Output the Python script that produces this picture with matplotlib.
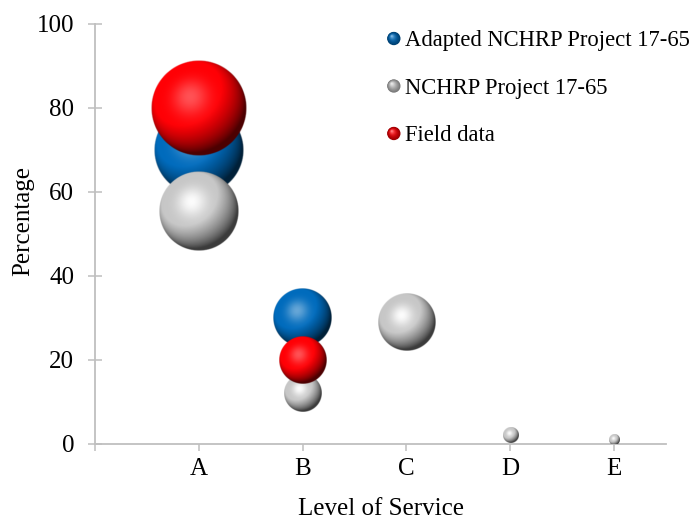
import numpy as np
import matplotlib
matplotlib.use("Agg")
import matplotlib.pyplot as plt
from matplotlib.patches import Circle
from matplotlib.legend_handler import HandlerBase

plt.rcParams['font.family'] = ['Liberation Serif', 'DejaVu Serif']

categories = ['A', 'B', 'C', 'D', 'E']
adapted_x = [1, 2]
adapted_y = [70, 30]
nchrp_x = [1, 2, 3, 4, 5]
nchrp_y = [55.5, 12, 29, 2, 1]
field_x = [1, 2]
field_y = [80, 20]

series = [
    ('Adapted NCHRP Project 17-65', adapted_x, adapted_y, (0.0, 0.42, 0.74), 0.4),
    ('NCHRP Project 17-65', nchrp_x, nchrp_y, (0.78, 0.78, 0.78), 0.95),
    ('Field data', field_x, field_y, (1.0, 0.0, 0.02), 0.32),
]

LIGHT = np.array([-0.35, 0.45, 0.82])
LIGHT = LIGHT / np.linalg.norm(LIGHT)


def sphere_rgba(base, spec_k, n=180):
    base = np.array(base)
    u = np.linspace(-1, 1, n)
    uu, vv = np.meshgrid(u, u)
    d = np.sqrt(uu ** 2 + vv ** 2)
    z = np.sqrt(np.clip(1 - d ** 2, 0, 1))
    diff = uu * LIGHT[0] + vv * LIGHT[1] + z * LIGHT[2]
    h = LIGHT + np.array([0, 0, 1.0])
    h = h / np.linalg.norm(h)
    spec = np.clip(uu * h[0] + vv * h[1] + z * h[2], 0, 1) ** 14
    shade = np.clip(0.4 + 0.9 * diff, 0.3, 1.0)
    c = base[None, None, :] * shade[..., None]
    c = c + spec_k * spec[..., None] * (1 - c)
    alpha = np.clip((1 - d) * n / 2.5, 0, 1)
    return np.dstack([np.clip(c, 0, 1), alpha])


class SphereHandler(HandlerBase):
    def __init__(self, color):
        super().__init__()
        self.color = np.array(color)

    def create_artists(self, legend, orig_handle, xdescent, ydescent,
                       width, height, fontsize, trans):
        cx = width - 5
        cy = height / 2 - ydescent
        R = 4.8
        arts = []
        m = 12
        for i in range(m):
            t = i / (m - 1)
            r = R * (1 - 0.88 * t)
            col = self.color * (0.6 + 0.45 * t)
            col = np.clip(col, 0, 1)
            col = col + 0.5 * t ** 3 * (1 - col)
            arts.append(Circle((cx - 0.3 * R * t, cy + 0.35 * R * t), r,
                               facecolor=col, edgecolor='none', transform=trans))
        return arts


fig = plt.figure(figsize=(6.94, 5.20), dpi=100)
ax = fig.add_axes([95 / 694, 76 / 520, 571 / 694, 420 / 520])
xmin, xmax = 0, 5.5
ymin, ymax = 0, 100

# pixels per data unit
sx = 571 / (xmax - xmin)
sy = 420 / (ymax - ymin)
r_scale = 48 / np.sqrt(80)

handles = []
for k, (name, xs, ys, col, sk) in enumerate(series):
    img = sphere_rgba(col, sk)
    for x, y in zip(xs, ys):
        r = r_scale * np.sqrt(y)
        ax.imshow(img, origin='lower', interpolation='bilinear', aspect='auto',
                  extent=[x - r / sx, x + r / sx, y - r / sy, y + r / sy],
                  zorder=3 + k)
    h, = ax.plot([], [], 'o', color=col, label=name)
    handles.append(h)

ax.set_xlim(xmin, xmax)
ax.set_ylim(ymin, ymax)

gray = '#bfbfbf'
for s in ['top', 'right']:
    ax.spines[s].set_visible(False)
for s in ['left', 'bottom']:
    ax.spines[s].set_color(gray)
    ax.spines[s].set_linewidth(1.3)

ax.set_xticks([0, 1, 2, 3, 4, 5])
ax.set_xticklabels([''] + categories)
ax.set_yticks([0, 20, 40, 60, 80, 100])
ax.tick_params(axis='y', direction='inout', length=10, width=1.1, color=gray,
               labelsize=18, pad=10)
ax.tick_params(axis='x', direction='out', length=5, width=1.1, color=gray,
               labelsize=18, pad=5)
ax.set_xlabel('Level of Service', fontsize=18)
ax.xaxis.set_label_coords(0.5, -0.155)
ax.xaxis.label.set_va('center')
ax.set_ylabel('Percentage', fontsize=18)
ax.yaxis.set_label_coords(-0.126, 0.53)
ax.yaxis.label.set_va('center')

ax.legend(handles=handles, loc='upper left', bbox_to_anchor=(0.48, 1.017),
          frameon=False, fontsize=16.3, labelspacing=1.17, handlelength=0.8,
          handletextpad=0.2, borderaxespad=0.2,
          handler_map={h: SphereHandler(s[3]) for h, s in zip(handles, series)})

fig.savefig('out.png', dpi=100)
